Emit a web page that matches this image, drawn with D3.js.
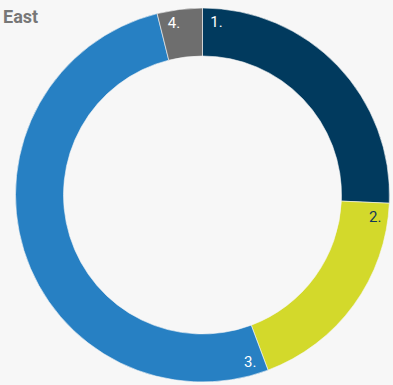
<!DOCTYPE html>
<html><head><meta charset="utf-8">
<script src="https://cdn.jsdelivr.net/npm/d3@7"></script>
<style>html,body{margin:0;padding:0;background:#f7f7f7;}svg{display:block;}</style>
</head><body>
<svg id="c" width="393" height="385"></svg>
<script>
const title = "East";
const categories = ["1.", "2.", "3.", "4."];
const values = [25.7, 18.6, 51.8, 3.9];
const colors = ["#013a5e", "#d3d92b", "#2780c3", "#6e6e6e"];
const labelColors = ["#ffffff", "#13385a", "#ffffff", "#ffffff"];

const svg = d3.select("#c");
const cx = 202.5, cy = 195, R = 187, r = 139;
svg.append("rect").attr("width",393).attr("height",385).attr("fill","#f7f7f7");
svg.append("text").attr("x",3).attr("y",23).text(title)
  .attr("font-family","Roboto, sans-serif").attr("font-weight","bold")
  .attr("font-size",18).attr("fill","#777777");

const data = categories.map((c,i)=>({cat:c, v:values[i], i}));
const pie = d3.pie().value(d=>d.v).sort(null);
const arcs = pie(data);
const arc = d3.arc().innerRadius(r).outerRadius(R);
const g = svg.append("g").attr("transform",`translate(${cx},${cy})`);
g.selectAll("path").data(arcs).join("path")
  .attr("d",arc).attr("fill",d=>colors[d.data.i])
  .attr("stroke","#f7f7f7").attr("stroke-width",0.6);
const lr = 174, off = 14/lr;
g.selectAll("text").data(arcs).join("text")
  .attr("x",d=>lr*Math.sin(d.startAngle+off))
  .attr("y",d=>-lr*Math.cos(d.startAngle+off))
  .attr("text-anchor","middle").attr("dominant-baseline","central")
  .attr("font-family","Roboto, sans-serif").attr("font-size",15)
  .attr("fill",d=>labelColors[d.data.i])
  .text(d=>d.data.cat);
</script>
</body></html>
